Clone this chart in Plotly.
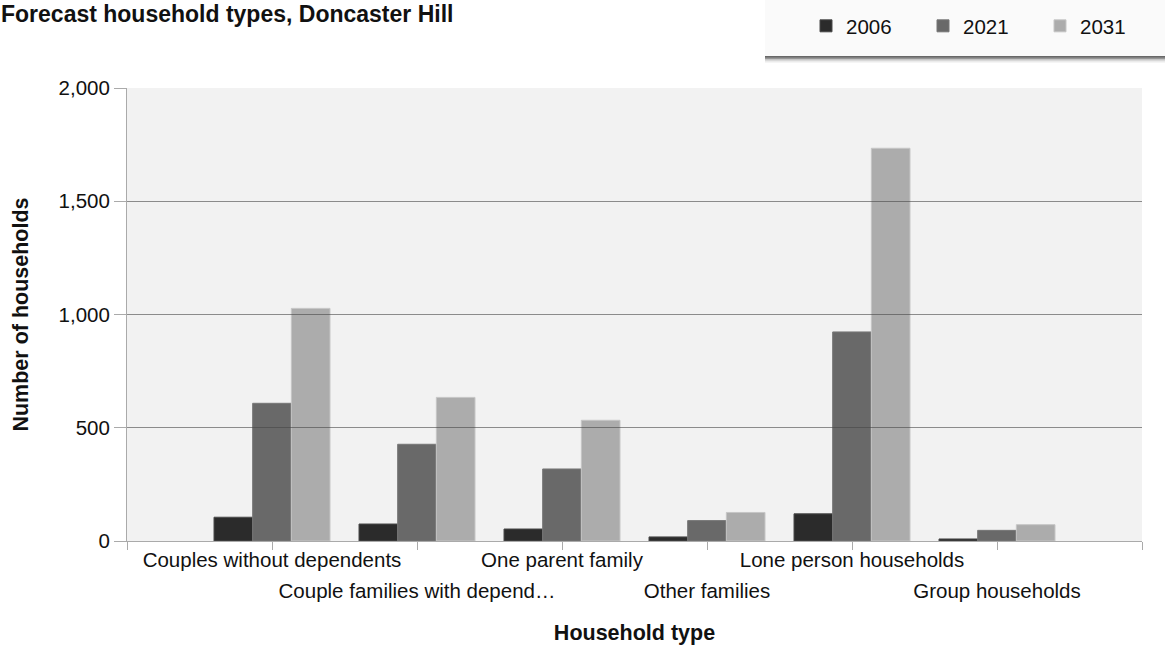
import plotly.graph_objects as go

# Household types (last label is shown truncated on the axis)
categories = [
    "Couples without dependents",
    "Couple families with depend\u2026",
    "One parent family",
    "Other families",
    "Lone person households",
    "Group households",
]
years = ["2006", "2021", "2031"]
households_2006 = [105, 75, 53, 18, 120, 9]
households_2021 = [608, 427, 318, 90, 923, 47]
households_2031 = [1027, 634, 533, 126, 1734, 72]
y_ticks = [0, 500, 1000, 1500, 2000]

series = [households_2006, households_2021, households_2031]
fill_colors = ["#2b2b2b", "#696969", "#acacac"]
edge_colors = ["#4a4a4a", "#777777", "#c6c6c6"]

FONT = "Liberation Sans, Arial, sans-serif"
TEXT = "#111111"
AXIS = "#aaaaaa"

# categories sit at 1..N with an empty slot on each side
positions = list(range(1, len(categories) + 1))
all_ticks = list(range(0, len(categories) + 2))
row1 = {p: c for p, c in zip(positions, categories) if p % 2 == 1}
row2 = {p: c for p, c in zip(positions, categories) if p % 2 == 0}

fig = go.Figure()
for year, vals, fc, ec in zip(years, series, fill_colors, edge_colors):
    fig.add_trace(go.Bar(
        name=year, x=positions, y=vals,
        marker=dict(color=fc, line=dict(color=ec, width=1)),
    ))

# empty trace that carries the overlay axes (second label row + grid on top)
fig.add_trace(go.Scatter(x=[], y=[], xaxis="x2", yaxis="y2",
                         showlegend=False, hoverinfo="skip"))

x_range = [all_ticks[0], all_ticks[-1]]
y_range = [y_ticks[0], y_ticks[-1]]

fig.update_layout(
    width=1165, height=648,
    margin=dict(l=127, r=23, t=88, b=107, autoexpand=False),
    paper_bgcolor="white", plot_bgcolor="#f2f2f2",
    font=dict(family=FONT, size=20.5, color=TEXT),
    barmode="group", bargap=0.2, bargroupgap=0,
    title=dict(
        text="<b>Forecast household types, Doncaster Hill</b>",
        font=dict(family=FONT, size=23, color=TEXT),
        x=1 / 1165, xref="container", xanchor="left",
        y=1 - 6 / 648, yref="container", yanchor="top",
    ),
    xaxis=dict(
        range=x_range, tickmode="array", tickvals=all_ticks,
        ticktext=[row1.get(t, "") for t in all_ticks],
        ticks="outside", ticklen=8, tickcolor=AXIS, tickwidth=1,
        showline=True, linecolor=AXIS, linewidth=1,
        showgrid=False, zeroline=False, automargin=False,
        ticklabelstandoff=-8,
        tickfont=dict(size=20.5, color=TEXT),
        title=dict(text="<b>Household type</b>", standoff=55,
                   font=dict(size=21.5, color=TEXT)),
    ),
    xaxis2=dict(
        overlaying="x", matches="x", anchor="y2", side="bottom",
        tickmode="array", tickvals=list(row2.keys()),
        ticktext=list(row2.values()),
        ticks="", showline=False, showgrid=False, zeroline=False,
        automargin=False, ticklabelstandoff=35,
        tickfont=dict(size=20.5, color=TEXT),
    ),
    yaxis=dict(
        range=y_range, tickmode="array", tickvals=y_ticks,
        tickformat=",", ticks="outside", ticklen=12, tickcolor=AXIS,
        showline=True, linecolor=AXIS, linewidth=1,
        showgrid=False, zeroline=False, automargin=False,
        tickfont=dict(size=20.5, color=TEXT),
        title=dict(text="<b>Number of households</b>", standoff=24,
                   font=dict(size=21.5, color=TEXT)),
    ),
    # grid drawn as long inside ticks so it lies over the bars
    yaxis2=dict(
        overlaying="y", matches="y", anchor="x2", side="left",
        tickmode="array", tickvals=y_ticks[1:],
        ticks="inside", ticklen=1015, tickwidth=1,
        tickcolor="rgba(70,70,70,0.6)",
        showticklabels=False, showline=False, showgrid=False,
        zeroline=False, automargin=False, layer="above traces",
    ),
    legend=dict(
        orientation="h", xref="container", yref="container",
        x=806 / 1165, xanchor="left", y=1 - 6 / 648, yanchor="top",
        bgcolor="rgba(0,0,0,0)", borderwidth=0,
        font=dict(size=20.5, color=TEXT),
        entrywidth=72, entrywidthmode="pixels", itemclick=False,
    ),
)

# legend panel with a soft drop shadow along its lower edge
def px_x(v):
    return (v - 127) / 1015

def px_y(v):
    return (541 - v) / 453

for off, alpha in [(6.5, 0.08), (4.5, 0.16), (3, 0.24), (1.5, 0.3)]:
    fig.add_shape(type="rect", xref="paper", yref="paper",
                  x0=px_x(765), x1=px_x(1170), y0=px_y(56 + off), y1=px_y(52),
                  fillcolor=f"rgba(0,0,0,{alpha})", line=dict(width=0),
                  layer="below")
fig.add_shape(type="rect", xref="paper", yref="paper",
              x0=px_x(765), x1=px_x(1170), y0=px_y(56), y1=px_y(-2),
              fillcolor="#fafafa", line=dict(width=0), layer="below")

fig.write_html("out.html")
